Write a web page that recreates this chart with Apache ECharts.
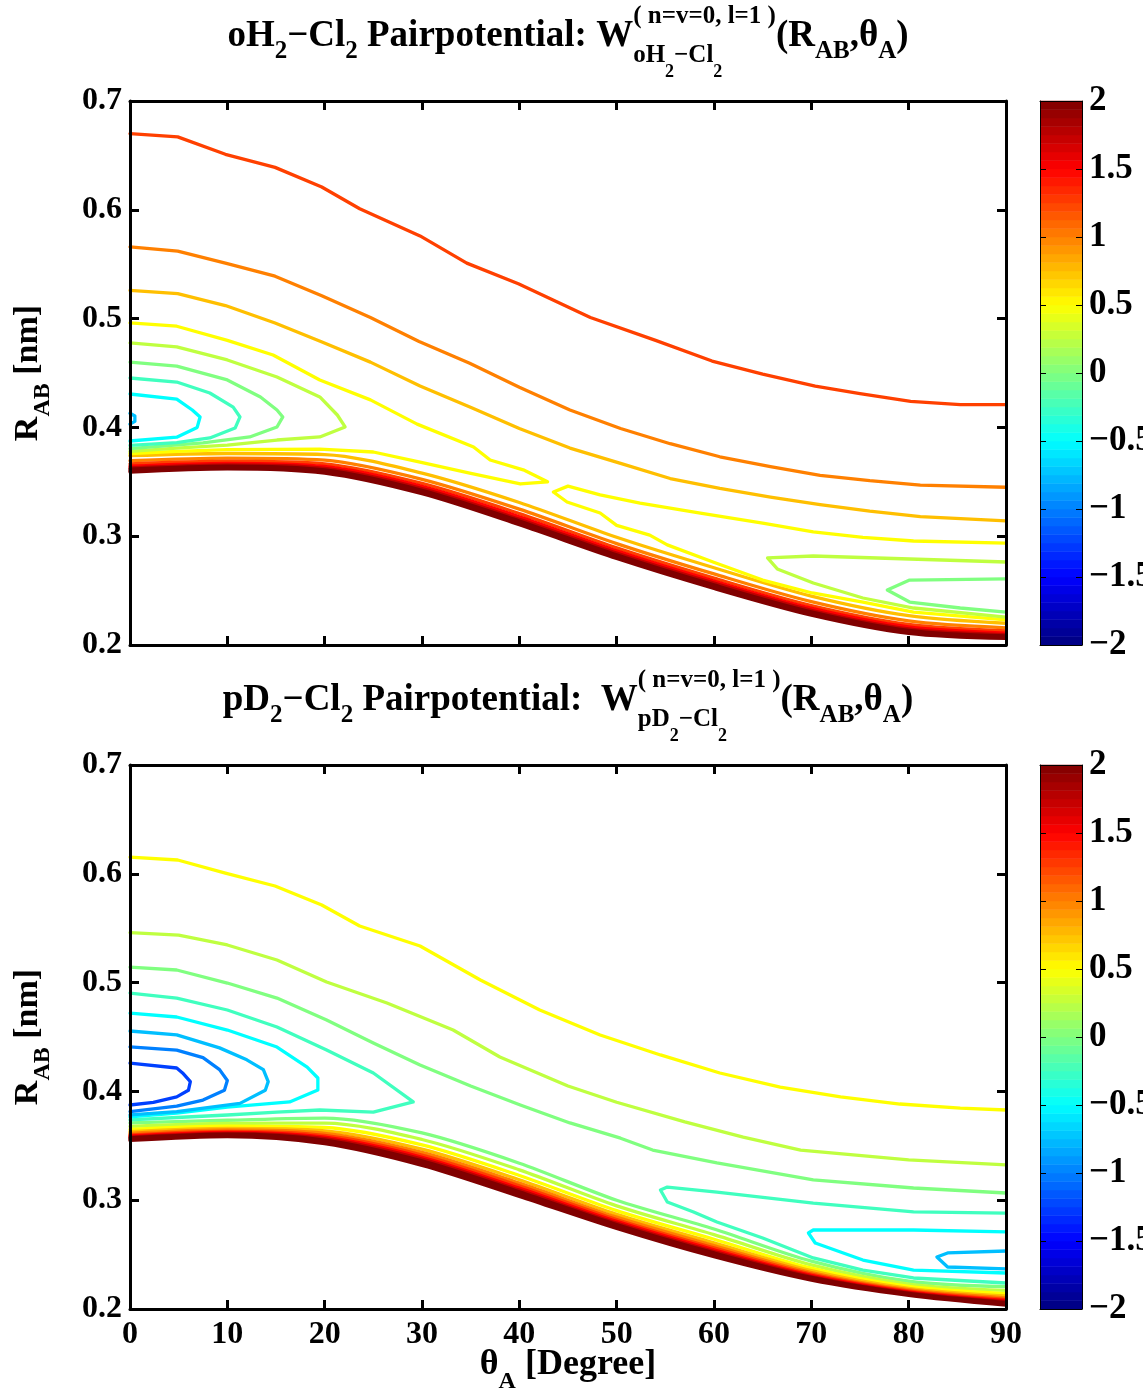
<!DOCTYPE html>
<html><head><meta charset="utf-8">
<script src="https://cdn.jsdelivr.net/npm/echarts@6/dist/echarts.min.js"></script>
<style>html,body{margin:0;padding:0;background:#fff}#c{width:1143px;height:1391px}</style>
</head><body><div id="c"></div>
<script>
// ---------- axis / tick data ----------
const X_TICKS = [0,10,20,30,40,50,60,70,80,90];
const Y_RANGE = [0.2, 0.7];
const CB_RANGE = [-2, 2];
const WALL_THETA = [0,10,20,30,40,50,60,70,80,90];

// ---------- top plot (oH2-Cl2) contour pieces: [theta, R] ----------
const TOP_UP_125 = [[0,0.670],[4.9,0.667],[9.8,0.651],[14.9,0.639],[19.7,0.621],[23.6,0.601],[29.8,0.576],[34.6,0.551],[39.9,0.532],[47.3,0.501],[54,0.480],[59.8,0.461],[65,0.449],[70.4,0.438],[75,0.431],[80.2,0.424],[85.3,0.421],[90,0.421]];
const TOP_UP_100 = [[0,0.566],[4.9,0.562],[9.8,0.551],[14.9,0.539],[19.7,0.521],[24.7,0.501],[29.7,0.479],[34.9,0.459],[40,0.437],[45.2,0.416],[50.4,0.399],[55.5,0.385],[60.6,0.373],[65.8,0.364],[70.9,0.356],[76,0.351],[81.2,0.347],[90,0.345]];
const TOP_UP_075 = [[0,0.526],[4.9,0.523],[9.8,0.512],[14.9,0.496],[19.6,0.479],[24.7,0.460],[29.8,0.438],[35.1,0.418],[40,0.399],[45.2,0.381],[50.4,0.367],[55.5,0.353],[60.6,0.344],[65.8,0.336],[70.9,0.329],[76,0.323],[81.2,0.318],[90,0.314]];
const TOP_L_050 = [[0,0.496],[4.8,0.493],[10,0.480],[14.7,0.4665],[19.5,0.4436],[24.7,0.4253],[29.5,0.403],[35.3,0.382],[37,0.370],[40.4,0.361],[42.9,0.350],[40.1,0.348],[34.9,0.358],[29.8,0.368],[25,0.3774],[19.5,0.380],[10,0.3795],[4.8,0.378],[0,0.376]];
const TOP_L_025 = [[0,0.4776],[4.8,0.474],[10,0.462],[15.1,0.4463],[19.5,0.428],[21.3,0.4114],[22.1,0.4004],[19.5,0.3912],[15.1,0.3884],[10,0.3838],[4.8,0.381],[0,0.378]];
const TOP_L_000 = [[0,0.460],[4.8,0.4564],[10,0.4436],[13.4,0.4279],[15.1,0.416],[15.7,0.4096],[15.1,0.4004],[12.3,0.3912],[7.5,0.3857],[0,0.3805]];
const TOP_L_M025 = [[0,0.4454],[4.8,0.4417],[8.2,0.4316],[10.6,0.4186],[11.3,0.4096],[10.8,0.3994],[8.2,0.3903],[4.8,0.386],[0,0.3835]];
const TOP_L_M050 = [[0,0.4307],[4.8,0.426],[6.4,0.416],[7.2,0.4096],[6.9,0.400],[4.8,0.391],[0,0.3875]];
const TOP_L_M075 = [[0,0.413],[0.5,0.4105],[0.5,0.4055],[0,0.403]];
const TOP_R_050 = [[90,0.2937],[80.5,0.2956],[75.3,0.299],[70.2,0.304],[65,0.312],[58.6,0.3213],[52.4,0.3305],[48.3,0.338],[45,0.346],[43.5,0.3406],[44.9,0.3314],[48.3,0.3213],[50,0.310],[53.4,0.301],[55.2,0.292],[59.9,0.2763],[65,0.2597],[70.1,0.2478],[75.3,0.2395],[80.5,0.2303],[90,0.223]];
const TOP_R_025 = [[90,0.2763],[70.2,0.2818],[65.5,0.280],[66.5,0.2699],[70.2,0.257],[75.3,0.2432],[80.5,0.234],[90,0.2257]];
const TOP_R_000 = [[90,0.2607],[80.1,0.2597],[77.8,0.2506],[80.1,0.2395],[85.3,0.234],[90,0.2303]];
// repulsive wall lines (R at WALL_THETA)
const TOP_W075 = [0.374,0.376,0.375,0.358,0.331,0.299,0.271,0.245,0.227,0.220];
const TOP_W100 = [0.3695,0.3718,0.3699,0.3523,0.3249,0.2932,0.2653,0.2398,0.2221,0.2158];
const TOP_W125 = [0.3665,0.3690,0.3665,0.3485,0.3208,0.2893,0.2615,0.2363,0.2189,0.2130];
const TOP_W150 = [0.3644,0.3670,0.3641,0.3458,0.3179,0.2865,0.2588,0.2338,0.2166,0.2110];
const TOP_W175 = [0.3628,0.3655,0.3623,0.3438,0.3156,0.2844,0.2568,0.2319,0.2148,0.2095];
const TOP_W200 = [0.3616,0.3644,0.3609,0.3422,0.3140,0.2828,0.2552,0.2305,0.2135,0.2084];
const TOP_W250 = [0.3602,0.3631,0.3594,0.3405,0.3121,0.2811,0.2535,0.2289,0.2120,0.2071];
const TOP_W300 = [0.3590,0.3620,0.3580,0.3390,0.3105,0.2795,0.2520,0.2275,0.2107,0.2060];

// ---------- bottom plot (pD2-Cl2) contour pieces ----------
const BOT_UP_050 = [[0,0.6154],[4.9,0.6127],[9.8,0.6007],[14.9,0.5888],[19.7,0.5713],[23.6,0.552],[29.8,0.5336],[36,0.5024],[42.1,0.4748],[48.3,0.4518],[54.5,0.4335],[60.6,0.4169],[66.8,0.404],[73,0.3949],[79.1,0.3884],[85.3,0.3847],[90,0.3829]];
const BOT_UP_025 = [[0,0.546],[5,0.5437],[10,0.5346],[15.1,0.5208],[20.2,0.5005],[26.4,0.4812],[33.2,0.4564],[38,0.4316],[45,0.405],[50,0.390],[57,0.372],[63,0.358],[68.9,0.3461],[80,0.337],[90,0.3324]];
const BOT_UP_000 = [[0,0.5143],[4.8,0.5116],[10,0.4996],[15.1,0.4858],[20.2,0.4656],[25,0.4445],[29.8,0.4243],[35,0.405],[40.1,0.3875],[45.2,0.371],[50.4,0.357],[53.7,0.3461],[60.3,0.3342],[70.2,0.3186],[80.5,0.3112],[90,0.3066]];
const BOT_L_M025 = [[0,0.4904],[4.8,0.4858],[10,0.4748],[15.1,0.4592],[20.2,0.4381],[25,0.4169],[29.1,0.3903],[25,0.381],[19.5,0.3829],[15.1,0.381],[10,0.3783],[4.8,0.376],[0,0.3738]];
const BOT_L_M050 = [[0,0.472],[4.8,0.4684],[10,0.4564],[15.1,0.4408],[18.2,0.4224],[19.3,0.4123],[19.3,0.4013],[16.4,0.3903],[10,0.3855],[4.8,0.380],[0,0.3765]];
const BOT_L_M075 = [[0,0.4555],[4.8,0.452],[9.2,0.440],[12,0.429],[13.7,0.420],[14.2,0.409],[13.9,0.401],[11.3,0.389],[4.8,0.3815],[0,0.3785]];
const BOT_L_M100 = [[0,0.441],[4.8,0.438],[7.5,0.431],[9.2,0.420],[10,0.410],[9.7,0.401],[7.5,0.392],[4.8,0.3865],[0,0.3815]];
const BOT_L_M125 = [[0,0.426],[4.8,0.4215],[5.4,0.417],[6.2,0.409],[6.0,0.401],[4.8,0.395],[2.4,0.390],[0,0.3875]];
const BOT_R_M025 = [[90,0.2882],[80.5,0.2892],[70.2,0.2974],[60.3,0.3075],[55.2,0.3121],[54.5,0.3094],[55.2,0.2983],[57.9,0.2892],[60.3,0.280],[65,0.2653],[70.2,0.2469],[75.3,0.2358],[80.5,0.2285],[90,0.2239]];
const BOT_R_M050 = [[90,0.2708],[80.5,0.2726],[70.2,0.2726],[69.7,0.2699],[70.4,0.2607],[75.3,0.245],[80.5,0.2358],[90,0.2331]];
const BOT_R_M075 = [[90,0.2533],[84,0.2515],[82.9,0.2478],[84,0.2386],[90,0.2368]];
const BOT_W000 = [0.371,0.3735,0.3755,0.3618,0.334,0.300,0.2735,0.244,0.2255,0.2205];
const BOT_W025 = [0.3678,0.3705,0.3708,0.3558,0.3279,0.2948,0.2684,0.2405,0.2229,0.2171];
const BOT_W050 = [0.3651,0.3680,0.3668,0.3508,0.3227,0.2904,0.2641,0.2375,0.2207,0.2142];
const BOT_W075 = [0.3630,0.3660,0.3638,0.3469,0.3188,0.2870,0.2608,0.2353,0.2190,0.2120];
const BOT_W100 = [0.3614,0.3645,0.3614,0.3439,0.3157,0.2844,0.2582,0.2335,0.2177,0.2103];
const BOT_W125 = [0.3601,0.3633,0.3595,0.3415,0.3133,0.2823,0.2562,0.2321,0.2167,0.2089];
const BOT_W150 = [0.3590,0.3623,0.3579,0.3395,0.3111,0.2805,0.2544,0.2309,0.2158,0.2078];
const BOT_W175 = [0.3580,0.3614,0.3565,0.3377,0.3093,0.2789,0.2528,0.2298,0.2150,0.2067];
const BOT_W200 = [0.3572,0.3606,0.3553,0.3362,0.3078,0.2776,0.2516,0.2290,0.2143,0.2059];
const BOT_W250 = [0.3561,0.3596,0.3536,0.3341,0.3056,0.2758,0.2498,0.2277,0.2134,0.2047];
const BOT_W300 = [0.3550,0.3585,0.3520,0.3320,0.3035,0.2740,0.2480,0.2265,0.2125,0.2035];

// level lists
const TOP_LINES = [[1.25,TOP_UP_125],[1.0,TOP_UP_100],[0.75,TOP_UP_075],[0.5,TOP_L_050],[0.5,TOP_R_050],[0.25,TOP_L_025],[0.25,TOP_R_025],[0,TOP_L_000],[0,TOP_R_000],[-0.25,TOP_L_M025],[-0.5,TOP_L_M050],[-0.75,TOP_L_M075]];
const TOP_WALL = [[0.75,TOP_W075],[1.0,TOP_W100],[1.25,TOP_W125],[1.5,TOP_W150],[1.75,TOP_W175],[2.0,TOP_W200],[2.5,TOP_W250],[3.0,TOP_W300]];
const BOT_LINES = [[0.5,BOT_UP_050],[0.25,BOT_UP_025],[0,BOT_UP_000],[-0.25,BOT_L_M025],[-0.5,BOT_L_M050],[-0.75,BOT_L_M075],[-1.0,BOT_L_M100],[-1.25,BOT_L_M125],[-0.25,BOT_R_M025],[-0.5,BOT_R_M050],[-0.75,BOT_R_M075]];
const BOT_WALL = [[0,BOT_W000],[0.25,BOT_W025],[0.5,BOT_W050],[0.75,BOT_W075],[1.0,BOT_W100],[1.25,BOT_W125],[1.5,BOT_W150],[1.75,BOT_W175],[2.0,BOT_W200],[2.5,BOT_W250],[3.0,BOT_W300]];

// ---------- helpers ----------
const FONT = '"Liberation Serif","Times New Roman",serif';
function jetT(t){ t=Math.max(0,Math.min(1,t)); const f=x=>Math.max(0,Math.min(1,1.5-Math.abs(4*t-x)));
  return 'rgb('+Math.round(255*f(3))+','+Math.round(255*f(2))+','+Math.round(255*f(1))+')'; }
function jet(v){ return jetT((v-CB_RANGE[0])/(CB_RANGE[1]-CB_RANGE[0])); }
const LW = 3.3;
function lineSeries(pts, level, g, smooth){
  return {type:'line', xAxisIndex:2*g, yAxisIndex:2*g, data:pts, symbol:'none', silent:true, animation:false,
    smooth: smooth||false, clip:true, z:2,
    lineStyle:{color:jet(level), width:LW, cap:'round', join:'round'}};
}
const series = [];
function addPlot(g, wall, lines){
  wall.forEach(([lv, arr]) => series.push(lineSeries(WALL_THETA.map((t,i)=>[t,arr[i]]), lv, g, 0.3)));
  lines.forEach(([lv, pts]) => series.push(lineSeries(pts, lv, g, false)));
}
addPlot(0, TOP_WALL, TOP_LINES);
addPlot(1, BOT_WALL, BOT_LINES);

// colorbars (64-step jet)
const CB_STEPS = 64;
const cbData = [];
for (let i=0;i<CB_STEPS;i++){ const lo=CB_RANGE[0]+(CB_RANGE[1]-CB_RANGE[0])*i/CB_STEPS; const hi=CB_RANGE[0]+(CB_RANGE[1]-CB_RANGE[0])*(i+1)/CB_STEPS; cbData.push([i,lo,hi]); }
function cbSeries(xi, yi){
  return {type:'custom', xAxisIndex:xi, yAxisIndex:yi, data:cbData, silent:true, animation:false, z:1,
    renderItem:function(params, api){
      const lo=api.value(1), hi=api.value(2), i=api.value(0);
      const p1=api.coord([0,hi]), p2=api.coord([1,lo]);
      return {type:'rect', shape:{x:p1[0], y:p1[1]-0.3, width:p2[0]-p1[0], height:p2[1]-p1[1]+0.6},
        style:{fill:jetT((i+0.5)/CB_STEPS)}};
    }};
}
series.push(cbSeries(4,5));
series.push(cbSeries(6,7));

// ---------- layout ----------
const PL = 130, PW = 876, PH = 544, TOP1 = 101, TOP2 = 765, CBL = 1040, CBW = 42;
const grids = [
  {left:PL, top:TOP1, width:PW, height:PH, containLabel:false, outerBoundsMode:'none'},
  {left:PL, top:TOP2, width:PW, height:PH, containLabel:false, outerBoundsMode:'none'},
  {left:CBL, top:TOP1, width:CBW, height:PH, containLabel:false, outerBoundsMode:'none'},
  {left:CBL, top:TOP2, width:CBW, height:PH, containLabel:false, outerBoundsMode:'none'}
];
const tickLbl = {color:'#000', fontFamily:FONT, fontWeight:'bold', fontSize:32};
function xMain(g, pos, labels){
  return {type:'value', gridIndex:g, position:pos, min:X_TICKS[0], max:X_TICKS[X_TICKS.length-1], interval:10, z:10,
    axisLine:{show:true, onZero:false, lineStyle:{color:'#000', width:3}},
    axisTick:{show:true, inside:true, length:9, lineStyle:{color:'#000', width:3}},
    axisLabel:Object.assign({show:labels, margin:10, showMinLabel:true, showMaxLabel:true}, tickLbl),
    splitLine:{show:false}};
}
function yMain(g, pos, labels){
  return {type:'value', gridIndex:g, position:pos, min:Y_RANGE[0], max:Y_RANGE[1], interval:0.1, z:10,
    axisLine:{show:true, onZero:false, lineStyle:{color:'#000', width:3}},
    axisTick:{show:true, inside:true, length:9, lineStyle:{color:'#000', width:3}},
    axisLabel:Object.assign({show:labels, margin:8, showMinLabel:true, showMaxLabel:true, formatter:v=>v.toFixed(1)}, tickLbl),
    splitLine:{show:false}};
}
function xCb(g, pos){
  return {type:'value', gridIndex:g, position:pos, min:0, max:1, z:10,
    axisLine:{show:true, onZero:false, lineStyle:{color:'#000', width:1}}, axisTick:{show:false}, axisLabel:{show:false}, splitLine:{show:false}};
}
function yCb(g, pos, labels){
  return {type:'value', gridIndex:g, position:pos, min:CB_RANGE[0], max:CB_RANGE[1], interval:0.5, z:10,
    axisLine:{show:true, onZero:false, lineStyle:{color:'#000', width:1}},
    axisTick:{show:true, inside:true, length:6, lineStyle:{color:'#000', width:1}},
    axisLabel:Object.assign({}, tickLbl, {show:labels, margin:7, fontSize:35, showMinLabel:true, showMaxLabel:true,
      formatter:v=>(v<0?'\u2212':'')+Math.abs(v)}),
    splitLine:{show:false}};
}
const xAxes = [xMain(0,'bottom',false), xMain(0,'top',false), xMain(1,'bottom',true), xMain(1,'top',false),
  xCb(2,'bottom'), xCb(2,'top'), xCb(3,'bottom'), xCb(3,'top')];
const yAxes = [yMain(0,'left',true), yMain(0,'right',false), yMain(1,'left',true), yMain(1,'right',false),
  yCb(2,'left',false), yCb(2,'right',true), yCb(3,'left',false), yCb(3,'right',true)];

// ---------- titles (text pieces laid out by measured widths) ----------
const mctx = document.createElement('canvas').getContext('2d');
function meas(t, s){ mctx.font = 'bold '+s+'px '+FONT; return mctx.measureText(t).width; }
function layout(segs){
  const parts=[]; let x=0;
  segs.forEach(seg=>{
    if (seg.stack){ let w=0; seg.stack.forEach(row=>{ let xx=x; row.forEach(p=>{ parts.push(Object.assign({x:xx},p)); xx+=meas(p.t,p.s); }); w=Math.max(w,xx-x); }); x+=w; }
    else { parts.push(Object.assign({x:x},seg)); x+=meas(seg.t,seg.s); }
  });
  return {parts, w:x};
}
function textEls(segs, cx, cy){
  const L = layout(segs); const x0 = cx - L.w/2;
  return L.parts.map(p=>({type:'text', x:x0+p.x, y:cy+p.dy, silent:true, z:20,
    style:{text:p.t, font:'bold '+p.s+'px '+FONT, fill:'#000', align:'left', verticalAlign:'middle', textAlign:'left', textVerticalAlign:'middle'}}));
}
function rotEls(segs, cx, cy){
  const L = layout(segs); const x0 = -L.w/2;
  return {type:'group', x:cx, y:cy, rotation:Math.PI/2, silent:true, z:20,
    children:L.parts.map(p=>({type:'text', x:x0+p.x, y:p.dy,
      style:{text:p.t, font:'bold '+p.s+'px '+FONT, fill:'#000', align:'left', verticalAlign:'middle', textAlign:'left', textVerticalAlign:'middle'}}))};
}
const M=37, S=25, SS=18;
const TITLE1 = [{t:'oH',s:M,dy:0},{t:'2',s:S,dy:16},{t:'\u2212Cl',s:M,dy:0},{t:'2',s:S,dy:16},{t:' Pairpotential: W',s:M,dy:0},
  {stack:[[{t:'( n=v=0, l=1 )',s:S,dy:-19}],[{t:'oH',s:S,dy:20},{t:'2',s:SS,dy:36},{t:'\u2212Cl',s:S,dy:20},{t:'2',s:SS,dy:36}]]},
  {t:'(R',s:M,dy:0},{t:'AB',s:S,dy:16},{t:',\u03b8',s:M,dy:0},{t:'A',s:S,dy:16},{t:')',s:M,dy:0}];
const TITLE2 = [{t:'pD',s:M,dy:0},{t:'2',s:S,dy:16},{t:'\u2212Cl',s:M,dy:0},{t:'2',s:S,dy:16},{t:' Pairpotential:  W',s:M,dy:0},
  {stack:[[{t:'( n=v=0, l=1 )',s:S,dy:-19}],[{t:'pD',s:S,dy:20},{t:'2',s:SS,dy:36},{t:'\u2212Cl',s:S,dy:20},{t:'2',s:SS,dy:36}]]},
  {t:'(R',s:M,dy:0},{t:'AB',s:S,dy:16},{t:',\u03b8',s:M,dy:0},{t:'A',s:S,dy:16},{t:')',s:M,dy:0}];
const AM=34, AS=24;
const YNAME = [{t:'R',s:AM,dy:0},{t:'AB',s:AS,dy:15},{t:' [nm]',s:AM,dy:0}];
const XNAME = [{t:'\u03b8',s:36,dy:0},{t:'A',s:AS,dy:17},{t:' [Degree]',s:36,dy:0}];

const graphics = []
  .concat(textEls(TITLE1, PL+PW/2, 36))
  .concat(textEls(TITLE2, PL+PW/2, 700))
  .concat(textEls(XNAME, PL+PW/2, 1365))
  .concat([rotEls(YNAME, 28, TOP1+PH/2), rotEls(YNAME, 28, TOP2+PH/2)]);

const chart = echarts.init(document.getElementById('c'), null, {renderer:'canvas'});
chart.setOption({
  backgroundColor:'#fff', animation:false,
  grid:grids, xAxis:xAxes, yAxis:yAxes, series:series, graphic:graphics
});
</script></body></html>
